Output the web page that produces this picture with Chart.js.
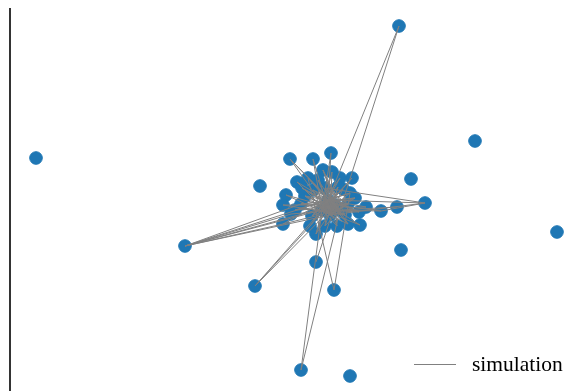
<!DOCTYPE html>
<html>
<head>
<meta charset="utf-8">
<script src="https://cdn.jsdelivr.net/npm/chart.js@4"></script>
<style>
  body { margin: 0; background: #fff; }
  #wrap { position: relative; width: 578px; height: 391px; }
  #legenda { position: absolute; left: 414px; top: 352px; font-family: "Liberation Serif", serif; font-size: 21.5px; color: #000; display: flex; align-items: center; }
  #legenda span.linha { display: inline-block; width: 42px; height: 0; border-top: 1px solid #808080; margin-right: 16px; }
</style>
</head>
<body>
<div id="wrap">
  <canvas id="grafo" width="578" height="391"></canvas>
  <div id="legenda"><span class="linha"></span><span id="legenda-texto"></span></div>
</div>
<script>
// Posições dos nós
const nodeX = [399, 36, 475, 557, 411, 425, 397, 381, 401, 185, 255, 334, 316, 301, 350, 260,
  290, 313, 331, 352, 297, 323, 332, 308, 286, 283, 283, 295, 291, 316, 310, 325, 337, 348, 360,
  359, 355, 350, 343, 340, 338, 325, 313, 305, 301, 345, 335, 328, 322, 340, 330, 318, 302, 366, 312, 348];
const nodeY = [26, 158, 141, 232, 179, 203, 207, 211, 250, 246, 286, 290, 262, 370, 376, 186,
  159, 159, 153, 178, 182, 170, 172, 178, 195, 205, 224, 210, 214, 234, 226, 226, 226, 224, 225,
  212, 198, 193, 189, 178, 187, 188, 190, 196, 204, 215, 205, 200, 210, 210, 215, 180, 188, 207, 216, 204];

// Arestas (pares de índices)
const edgeFrom = [0, 0, 9, 9, 9, 9, 9, 9, 9, 10, 10, 10, 11, 11, 13, 13, 12, 5, 5, 5, 6, 7, 7,
  16, 16, 17, 18, 19, 20, 21, 22, 23, 24, 25, 26, 26, 27, 28, 29, 30, 31, 32, 33, 34, 35, 36,
  37, 38, 39, 40, 41, 42, 43, 44, 45, 51, 52, 53, 54, 55,
  46, 46, 46, 46, 47, 47, 48, 48, 49, 47, 55, 41, 43, 36, 27,
  16, 20, 23, 42, 43, 44, 54, 31, 32, 33, 35, 36, 37, 40, 41, 45, 55, 50, 29, 21, 38, 52, 24,
  36, 37, 38, 40, 41, 42, 43, 45, 51, 52, 21, 22, 23, 19, 39, 17, 18, 5];
const edgeTo = [47, 49, 46, 47, 48, 50, 44, 26, 28, 48, 46, 30, 37, 23, 48, 49, 46, 47, 50, 7, 49, 46, 48,
  46, 50, 48, 47, 48, 46, 49, 50, 46, 49, 46, 47, 49, 46, 49, 46, 47, 47, 48, 47, 48, 47, 48,
  47, 50, 48, 50, 49, 46, 50, 49, 47, 46, 49, 47, 46, 48,
  47, 48, 49, 50, 48, 49, 49, 50, 50, 50, 50, 55, 45, 44, 53,
  49, 50, 47, 48, 49, 46, 47, 49, 46, 50, 48, 50, 46, 47, 50, 48, 46, 55, 47, 46, 47, 46, 50,
  44, 27, 54, 31, 33, 35, 55, 25, 32, 34, 45, 29, 33, 30, 54, 50, 48, 41];

const serieNome = 'simulation';

const nos = nodeX.map((x, i) => ({ x: x, y: 391 - nodeY[i] }));
const linhas = [];
edgeFrom.forEach((a, i) => {
  const b = edgeTo[i];
  linhas.push(nos[a], nos[b], { x: null, y: null });
});

// Eixo esquerdo (só a linha)
const eixoEsquerdo = {
  id: 'eixoEsquerdo',
  afterDraw(chart) {
    const { ctx, chartArea } = chart;
    ctx.save();
    ctx.strokeStyle = '#000';
    ctx.lineWidth = 1.6;
    ctx.beginPath();
    ctx.moveTo(chartArea.left, chartArea.top);
    ctx.lineTo(chartArea.left, chartArea.bottom);
    ctx.stroke();
    ctx.restore();
  }
};

new Chart(document.getElementById('grafo'), {
  type: 'scatter',
  data: {
    datasets: [
      {
        label: serieNome,
        data: linhas,
        showLine: true,
        spanGaps: false,
        borderColor: '#808080',
        borderWidth: 1,
        pointRadius: 0,
        order: 0
      },
      {
        label: 'nodes',
        data: nos,
        backgroundColor: '#1f77b4',
        borderColor: '#1f77b4',
        pointRadius: 6.3,
        pointHoverRadius: 6.3,
        order: 1
      }
    ]
  },
  options: {
    responsive: false,
    animation: false,
    layout: { autoPadding: false, padding: { left: 10, top: 8, right: 0, bottom: 0 } },
    scales: {
      x: { type: 'linear', min: 10, max: 578, display: false },
      y: { type: 'linear', min: 0, max: 383, display: false }
    },
    plugins: {
      legend: { display: false },
      tooltip: { enabled: false }
    }
  },
  plugins: [eixoEsquerdo]
});

document.getElementById('legenda-texto').textContent = serieNome;
</script>
</body>
</html>
